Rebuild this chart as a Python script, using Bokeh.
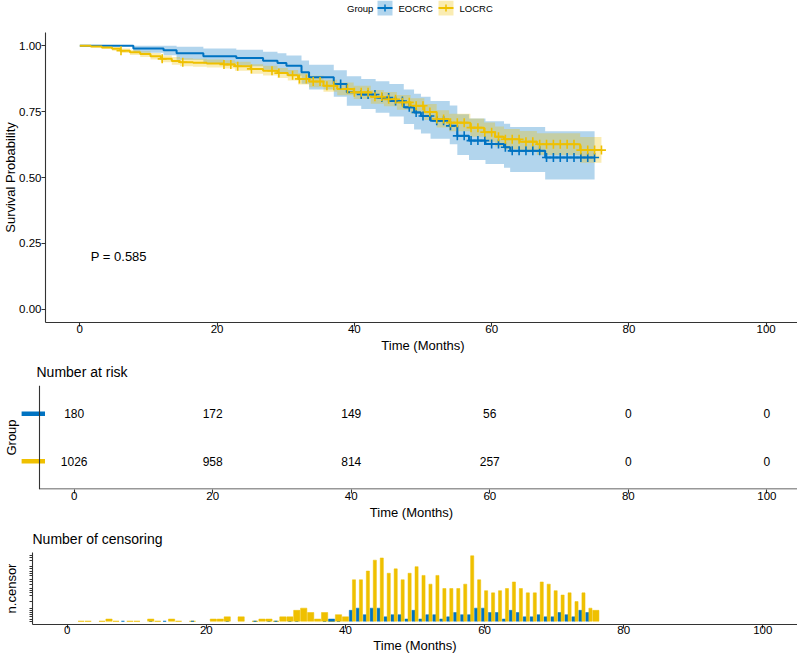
import numpy as np
from bokeh.plotting import figure
from bokeh.layouts import column
from bokeh.models import Range1d, FixedTicker, Label, Span
from bokeh.embed import file_html
from bokeh.resources import INLINE
from bokeh.core.properties import value

FONT = "Liberation Sans"
BLUE = "#0073C2"
YELLOW = "#EFC000"
AX = "#333333"

# ---------------- data ----------------
groups = ["EOCRC", "LOCRC"]
legend_title = "Group"
pval_text = "P = 0.585"

# Kaplan-Meier steps, EOCRC
eo_time = [0, 7.8, 12.2, 14.1, 18.0, 22.8, 26.7, 28.8, 30.1, 32.3, 33.4, 37.0, 38.9, 41.0,
           43.1, 45.1, 47.2, 48.7, 49.7, 51.1, 53.9, 55.0, 56.7, 59.1, 61.8, 62.7, 67.8, 75.0]
eo_surv = [1.0, 0.989, 0.983, 0.971, 0.960, 0.953, 0.943, 0.934, 0.924, 0.899, 0.880, 0.855, 0.823, 0.815,
           0.803, 0.790, 0.766, 0.747, 0.733, 0.715, 0.696, 0.658, 0.640, 0.627, 0.615, 0.601, 0.576, 0.576]
eo_lower = [1.0, 0.973, 0.964, 0.947, 0.931, 0.922, 0.909, 0.898, 0.886, 0.856, 0.834, 0.806, 0.772, 0.760,
            0.746, 0.731, 0.703, 0.682, 0.667, 0.647, 0.626, 0.585, 0.566, 0.551, 0.537, 0.521, 0.492, 0.492]
eo_upper = [1.0, 1.0, 1.0, 0.996, 0.989, 0.985, 0.977, 0.971, 0.963, 0.944, 0.928, 0.907, 0.884, 0.874,
            0.865, 0.855, 0.834, 0.818, 0.806, 0.790, 0.773, 0.740, 0.724, 0.713, 0.704, 0.692, 0.675, 0.675]

# Kaplan-Meier steps, LOCRC
lo_time = [0, 1.6, 3.2, 4.7, 5.9, 7.3, 8.8, 10.3, 11.8, 13.4, 14.6, 16.5, 18.5, 21.0, 22.6, 24.9,
           26.7, 28.8, 30.3, 31.8, 33.4, 35.5, 37.5, 39.9, 42.4, 44.3, 46.2, 48.2, 50.2, 52.0,
           53.8, 56.9, 58.9, 60.5, 61.8, 64.1, 66.6, 72.9, 76.0]
lo_surv = [1.0, 0.997, 0.993, 0.988, 0.981, 0.975, 0.968, 0.960, 0.950, 0.942, 0.937, 0.935, 0.932,
           0.929, 0.922, 0.912, 0.905, 0.896, 0.888, 0.874, 0.864, 0.848, 0.836, 0.823, 0.806, 0.797,
           0.785, 0.772, 0.748, 0.722, 0.708, 0.689, 0.672, 0.655, 0.645, 0.636, 0.626, 0.604, 0.604]
lo_lower = [1.0, 0.993, 0.988, 0.981, 0.972, 0.965, 0.957, 0.948, 0.937, 0.928, 0.922, 0.920, 0.917,
            0.913, 0.905, 0.894, 0.887, 0.877, 0.868, 0.853, 0.842, 0.825, 0.812, 0.798, 0.780, 0.770,
            0.757, 0.743, 0.718, 0.690, 0.675, 0.655, 0.636, 0.618, 0.607, 0.597, 0.585, 0.556, 0.556]
lo_upper = [1.0, 1.0, 0.998, 0.995, 0.989, 0.985, 0.979, 0.972, 0.963, 0.957, 0.952, 0.950, 0.948,
            0.945, 0.939, 0.930, 0.924, 0.915, 0.908, 0.895, 0.886, 0.871, 0.860, 0.848, 0.832, 0.824,
            0.813, 0.801, 0.779, 0.755, 0.742, 0.724, 0.709, 0.693, 0.684, 0.676, 0.668, 0.654, 0.654]

# number at risk
risk_times = [0, 20, 40, 60, 80, 100]
risk_eocrc = [180, 172, 149, 56, 0, 0]
risk_locrc = [1026, 958, 814, 257, 0, 0]

# number of censored subjects per month
eo_cens_month = [38, 41, 42, 43, 44, 45, 46, 47, 48, 49, 50, 51, 52, 53, 54, 55, 56, 57, 58, 59,
                 60, 61, 62, 63, 64, 65, 66, 67, 68, 69, 70, 71, 72, 73, 74, 75]
eo_cens_n = [1, 5, 6, 3, 6, 6, 2, 3, 3, 1, 5, 1, 3, 3, 1, 2, 4, 3, 3, 6,
             6, 4, 4, 1, 5, 4, 2, 2, 3, 2, 2, 4, 3, 2, 5, 4]
lo_cens_month = [6, 12, 15, 21, 22, 23, 25, 28, 29, 31, 32, 33, 34, 35, 36, 37, 39, 40,
                 41, 42, 43, 44, 45, 46, 47, 48, 49, 50, 51, 52, 53, 54, 55, 56, 57, 58, 59, 60,
                 61, 62, 63, 64, 65, 66, 67, 68, 69, 70, 71, 72, 73, 74, 75, 76]
lo_cens_n = [1, 1, 1, 1, 1, 2, 2, 1, 1, 2, 2, 5, 6, 4, 1, 4, 3, 2,
             19, 19, 23, 28, 29, 22, 24, 19, 22, 25, 21, 17, 21, 15, 15, 15, 17, 30, 19, 14,
             13, 14, 15, 18, 15, 13, 13, 18, 17, 14, 12, 13, 9, 13, 6, 5]

x_ticks = [0, 20, 40, 60, 80, 100]
y_ticks = [0, 0.25, 0.5, 0.75, 1.0]
X0, X1 = -5, 105


def surv_at(times, surv, t):
    idx = np.searchsorted(np.array(times), np.array(t, dtype=float), side="right") - 1
    return list(np.array(surv)[idx])


def style(p):
    for ax in p.axis:
        ax.axis_line_color = AX
        ax.axis_line_width = 1.1
        ax.major_tick_line_color = AX
        ax.major_tick_line_width = 1.1
        ax.major_tick_out = 4
        ax.major_tick_in = 0
        ax.minor_tick_line_color = None
        ax.major_label_text_font = FONT
        ax.major_label_text_font_size = "11.5px"
        ax.major_label_text_color = "black"
        ax.axis_label_text_font = FONT
        ax.axis_label_text_font_size = "13px"
        ax.axis_label_text_font_style = "normal"
        ax.axis_label_text_color = "black"
    for ax in p.xaxis:
        ax.major_label_standoff = -2
        ax.axis_label_standoff = 2
    p.grid.visible = False
    p.outline_line_color = None
    p.background_fill_color = "white"
    p.border_fill_color = "white"
    if p.title is not None:
        p.title.text_font = FONT
        p.title.text_font_size = "14px"
        p.title.text_font_style = "normal"
        p.title.text_color = "black"
        p.title.standoff = 12


# ---------------- legend strip ----------------
leg = figure(width=797, height=22, x_range=Range1d(0, 797), y_range=Range1d(22, 0),
             output_backend="svg", toolbar_location=None, min_border=0, frame_align=False)
leg.axis.visible = False
leg.grid.visible = False
leg.outline_line_color = None
leg.text(x=[346.5], y=[8], text=[legend_title], text_font=value(FONT), text_font_size="9.5px",
         text_align="left", text_baseline="middle", text_color="black")
for gx, col, name in [(377, BLUE, groups[0]), (438, YELLOW, groups[1])]:
    leg.quad(left=[gx], right=[gx + 15], top=[0], bottom=[15], fill_color=col, fill_alpha=0.3, line_color=None)
    leg.segment(x0=[gx], y0=[7.5], x1=[gx + 15], y1=[7.5], line_color=col, line_width=2)
    leg.segment(x0=[gx + 7.5], y0=[4], x1=[gx + 7.5], y1=[11], line_color=col, line_width=1.5)
    leg.text(x=[gx + 21], y=[8], text=[name], text_font=value(FONT), text_font_size="9.5px",
             text_align="left", text_baseline="middle", text_color="black")

# ---------------- survival curves ----------------
main = figure(frame_width=755, frame_height=290, x_range=Range1d(X0, X1), y_range=Range1d(-0.05, 1.05),
              output_backend="svg", toolbar_location=None, frame_align=False,
              min_border_left=42, min_border_right=0, min_border_top=10, min_border_bottom=20)
main.varea_step(x=eo_time, y1=eo_lower, y2=eo_upper, step_mode="after", fill_color=BLUE, fill_alpha=0.3)
main.varea_step(x=lo_time, y1=lo_lower, y2=lo_upper, step_mode="after", fill_color=YELLOW, fill_alpha=0.3)
main.step(x=eo_time, y=eo_surv, mode="after", line_color=BLUE, line_width=2)
main.step(x=lo_time, y=lo_surv, mode="after", line_color=YELLOW, line_width=2)
main.scatter(x=eo_cens_month, y=surv_at(eo_time, eo_surv, eo_cens_month), marker="cross", size=9,
             line_color=BLUE, line_width=1.6)
main.scatter(x=lo_cens_month, y=surv_at(lo_time, lo_surv, lo_cens_month), marker="cross", size=9,
             line_color=YELLOW, line_width=1.6)
main.add_layout(Label(x=1.6, y=0.2, text=pval_text, text_font=FONT, text_font_size="13px",
                      text_align="left", text_baseline="middle", text_color="black"))
main.xaxis.ticker = FixedTicker(ticks=x_ticks)
main.yaxis.ticker = FixedTicker(ticks=y_ticks)
main.yaxis.major_label_overrides = {t: f"{t:.2f}" for t in y_ticks}
main.xaxis.axis_label = "Time (Months)"
main.yaxis.axis_label = "Survival Probability"
style(main)
main.yaxis.major_label_standoff = 0
main.yaxis.axis_label_standoff = -2

# ---------------- risk table ----------------
RISK_LEFT_EXTRA = 18          # pixels of frame to the left of the drawn y axis line
RISK_AXIS_W = 762             # pixels for the -5..105 span
rx0 = X0 - RISK_LEFT_EXTRA * (X1 - X0) / RISK_AXIS_W
risk = figure(frame_width=RISK_AXIS_W + RISK_LEFT_EXTRA, frame_height=104, x_range=Range1d(rx0, X1),
              y_range=Range1d(0.4, 2.6), output_backend="svg", toolbar_location=None, title="Number at risk",
              frame_align=False, min_border_left=17, min_border_right=0, min_border_top=4, min_border_bottom=20)
risk.text(x=risk_times, y=[2] * len(risk_times), text=[str(v) for v in risk_eocrc], text_font=value(FONT),
          text_font_size="12px", text_align="center", text_baseline="middle", text_color="black")
risk.text(x=risk_times, y=[1] * len(risk_times), text=[str(v) for v in risk_locrc], text_font=value(FONT),
          text_font_size="12px", text_align="center", text_baseline="middle", text_color="black")
# group colour keys crossing the y axis
bar_l = X0 - 18.3 * (X1 - X0) / RISK_AXIS_W
bar_r = X0 + 5.5 * (X1 - X0) / RISK_AXIS_W
risk.segment(x0=[bar_l, bar_l], y0=[2, 1], x1=[bar_r, bar_r], y1=[2, 1], line_color=[BLUE, YELLOW], line_width=4.5)
# axis lines
risk.add_layout(Span(location=X0, dimension="height", line_color=AX, line_width=1.1))
risk.segment(x0=[X0], y0=[0.4 + 0.011], x1=[X1], y1=[0.4 + 0.011], line_color=AX, line_width=1.1)
risk.xaxis.ticker = FixedTicker(ticks=x_ticks)
risk.yaxis.ticker = FixedTicker(ticks=[1, 2])
risk.yaxis.major_label_overrides = {1: "", 2: ""}
risk.xaxis.axis_label = "Time (Months)"
risk.yaxis.axis_label = "Group"
style(risk)
risk.title.offset = 15
risk.xaxis.axis_line_color = None
risk.yaxis.axis_line_color = None
risk.yaxis.major_tick_line_color = None
risk.yaxis.major_label_standoff = 0
risk.yaxis.axis_label_standoff = -1

# ---------------- censoring ----------------
eo_map = dict(zip(eo_cens_month, eo_cens_n))
lo_map = dict(zip(lo_cens_month, lo_cens_n))
eo_x, eo_w, lo_x, lo_w = [], [], [], []
for m in eo_cens_month:
    if m in lo_map:
        eo_x.append(m - 0.225); eo_w.append(0.45)
    else:
        eo_x.append(m); eo_w.append(0.9)
for m in lo_cens_month:
    if m in eo_map:
        lo_x.append(m + 0.225); lo_w.append(0.45)
    else:
        lo_x.append(m); lo_w.append(0.9)
# months with events but no censoring (zero-height rows of the censoring table)
eo_zero = sorted(set(int(round(t)) for t in eo_time[1:-1]) - set(eo_cens_month))
lo_zero = sorted(set(int(round(t)) for t in lo_time[1:-1]) - set(lo_cens_month))
cmax = max(max(eo_cens_n), max(lo_cens_n))
cens_ticks = sorted(set([0] + eo_cens_n + lo_cens_n))

cens = figure(frame_width=765, frame_height=72, x_range=Range1d(X0, X1),
              y_range=Range1d(-0.05 * cmax, 1.05 * cmax),
              output_backend="svg", toolbar_location=None, title="Number of censoring", frame_align=False,
              min_border_left=32, min_border_right=0, min_border_top=4, min_border_bottom=20)
cens.vbar(x=lo_zero, width=0.9, top=0, bottom=0, line_color=YELLOW, line_width=1.2)
cens.vbar(x=eo_zero, width=0.45, top=0, bottom=0, line_color=BLUE, line_width=1.2)
cens.vbar(x=eo_x, width=eo_w, top=eo_cens_n, bottom=0, fill_color=BLUE, line_color=BLUE, line_width=0.5)
cens.vbar(x=lo_x, width=lo_w, top=lo_cens_n, bottom=0, fill_color=YELLOW, line_color=YELLOW, line_width=0.5)
cens.xaxis.ticker = FixedTicker(ticks=x_ticks)
cens.yaxis.ticker = FixedTicker(ticks=cens_ticks)
cens.yaxis.major_label_overrides = {t: "" for t in cens_ticks}
cens.xaxis.axis_label = "Time (Months)"
cens.yaxis.axis_label = "n.censor"
style(cens)
cens.yaxis.major_tick_out = 3
cens.yaxis.major_label_standoff = 0
cens.yaxis.axis_label_standoff = 11
cens.xaxis.major_label_standoff = -3
cens.xaxis.axis_label_standoff = 1

layout = column(leg, main, risk, cens, spacing=0)
open("out.html", "w").write(file_html(layout, INLINE))
